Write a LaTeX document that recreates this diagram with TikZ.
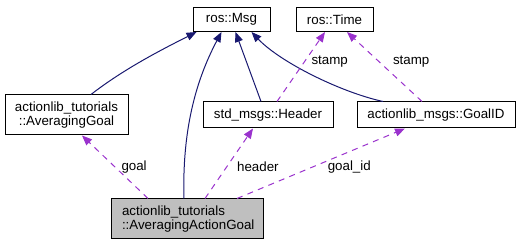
\documentclass[tikz,border=0pt]{standalone}
\usepackage{fontspec}
\setmainfont{Liberation Sans}
\usetikzlibrary{arrows.meta, positioning, calc}

\definecolor{inherit}{HTML}{191970}
\definecolor{usage}{HTML}{9A32CD}

\begin{document}
\begin{tikzpicture}[x=0.75pt, y=-0.75pt,
  cls/.style={draw=black, line width=0.75pt, inner sep=0pt, align=center,
              font=\fontsize{10}{11}\selectfont},
  base/.style={-{Triangle[length=7.5pt, width=6pt]}, inherit, line width=0.75pt},
  member/.style={-{Triangle[length=7.5pt, width=6pt]}, usage, line width=0.75pt,
                 dash pattern=on 4.5pt off 4pt},
  lbl/.style={font=\fontsize{10}{11}\selectfont, text=black, inner sep=0pt}
]
\useasboundingbox (0,0) rectangle (521,245);

% classes
\node[cls, minimum width=57.75pt, minimum height=18pt] (msg) at (231.5,19.5) {ros::Msg};
\node[cls, minimum width=57.75pt, minimum height=18pt] (time) at (334.5,19.5) {ros::Time};
\node[cls, minimum width=92.25pt, minimum height=30pt] (avgoal) at (66.5,115)
  {actionlib\_tutorials\\::AveragingGoal};
\node[cls, minimum width=97.5pt, minimum height=19.5pt] (header) at (268,115) {std\_msgs::Header};
\node[cls, minimum width=118.5pt, minimum height=19.5pt] (goalid) at (436,115) {actionlib\_msgs::GoalID};
\node[cls, fill=gray!50, minimum height=30pt, align=left, text width=97.5pt,
      inner xsep=8.25pt] (actgoal) at (187,219)
  {actionlib\_tutorials\\::AveragingActionGoal};

% inheritance
\draw[base] ($(avgoal.north)+(24.5,0)$) .. controls (125,68) and (165,48) .. ($(msg.south)+(-35,0)$);
\draw[base] ($(actgoal.north)+(-3,0)$) .. controls (182,130) and (196,80) .. ($(msg.south)+(-10,0)$);
\draw[base] ($(header.north)+(-7,0)$) -- ($(msg.south)+(4,0)$);
\draw[base] ($(goalid.north)+(-53,0)$) .. controls (340,92) and (280,62) .. ($(msg.south)+(20,0)$);

% members
\draw[member] ($(header.north)+(9,0)$) -- ($(time.south)+(-9.5,0)$)
  node[lbl, pos=0.571, right=5pt] {stamp};
\draw[member] ($(goalid.north)+(-14,0)$) -- ($(time.south)+(12.5,0)$)
  node[lbl, pos=0.571, right=10pt] {stamp};
\draw[member] ($(actgoal.north)+(-39,0)$) -- ($(avgoal.south)+(15.5,0)$)
  node[lbl, pos=0.5, right=4.5pt] {goal};
\draw[member] ($(actgoal.north)+(18,0)$) -- ($(header.south)+(-15,0)$)
  node[lbl, pos=0.45, right=7.5pt] {header};
\draw[member] ($(actgoal.north)+(50,0)$) -- ($(goalid.south)+(-31,0)$)
  node[lbl, pos=0.45, right=11pt] {goal\_id};
\end{tikzpicture}
\end{document}
